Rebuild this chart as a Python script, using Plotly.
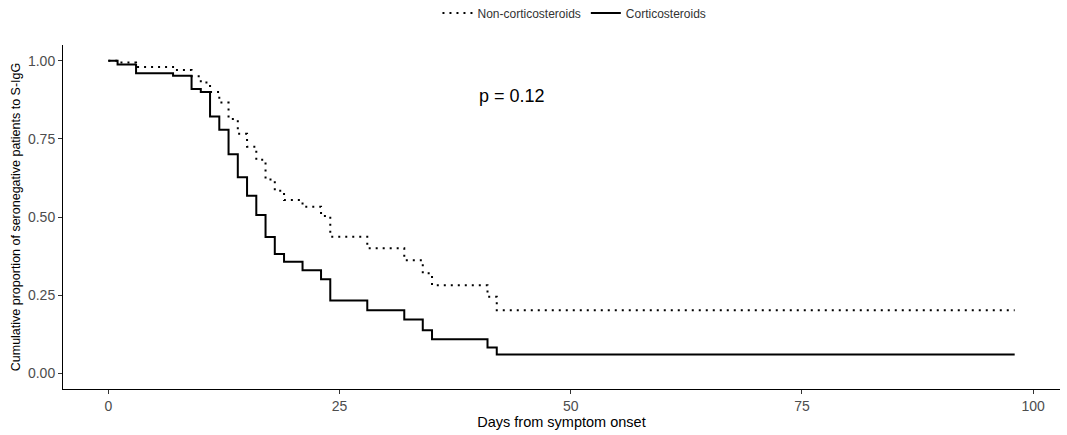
import plotly.graph_objects as go

# Data (Kaplan-Meier style step curves)
noncort_days = [0, 1, 3, 7, 9, 10, 11, 12, 13, 14, 15, 16, 17, 18, 19, 21, 23, 24, 28, 32, 34, 35, 41, 42, 98]
noncort_surv = [1.0, 0.994, 0.98, 0.97, 0.95, 0.93, 0.90, 0.866, 0.813, 0.766, 0.725, 0.683, 0.62, 0.584,
                0.554, 0.533, 0.503, 0.437, 0.40, 0.362, 0.32, 0.282, 0.245, 0.202, 0.202]

cort_days = [0, 1, 3, 7, 9, 10, 11, 12, 13, 14, 15, 16, 17, 18, 19, 21, 23, 24, 28, 32, 34, 35, 41, 42, 98]
cort_surv = [1.0, 0.988, 0.96, 0.952, 0.909, 0.90, 0.821, 0.779, 0.701, 0.627, 0.568, 0.506, 0.436, 0.382,
             0.357, 0.33, 0.301, 0.233, 0.202, 0.172, 0.138, 0.109, 0.083, 0.06, 0.06]

x_ticks = [0, 25, 50, 75, 100]
y_ticks = [0.0, 0.25, 0.5, 0.75, 1.0]
p_label = "p = 0.12"

FONT = "Liberation Sans, Arial, sans-serif"

fig = go.Figure()
fig.add_trace(go.Scatter(
    x=noncort_days, y=noncort_surv, mode="lines", name="Non-corticosteroids",
    line=dict(shape="hv", color="black", width=2, dash="2px,5px"),
))
fig.add_trace(go.Scatter(
    x=cort_days, y=cort_surv, mode="lines", name="Corticosteroids",
    line=dict(shape="hv", color="black", width=2),
))

fig.add_annotation(x=43.7, y=0.888, text=p_label, showarrow=False,
                   font=dict(family=FONT, size=18, color="black"))

fig.update_layout(
    width=1067, height=435,
    margin=dict(l=63, r=7, t=45, b=46, autoexpand=False),
    paper_bgcolor="white", plot_bgcolor="white",
    font=dict(family=FONT, color="#4d4d4d"),
    showlegend=True,
    legend=dict(orientation="h", x=0.513, xanchor="center", y=0.97, yanchor="middle",
                yref="container", itemwidth=30,
                font=dict(family=FONT, size=12, color="#333333")),
    xaxis=dict(range=[-4.9, 102.9], tickvals=x_ticks, showgrid=False, zeroline=False,
               automargin=False,
               showline=True, linecolor="black", linewidth=1,
               ticks="outside", ticklen=4, tickcolor="#333333",
               tickfont=dict(size=14, color="#4d4d4d"),
               title=dict(text="Days from symptom onset", font=dict(size=14.5, color="black"), standoff=4)),
    yaxis=dict(range=[-0.05, 1.05], tickvals=y_ticks, tickformat=".2f", showgrid=False, zeroline=False,
               automargin=False,
               showline=True, linecolor="black", linewidth=1,
               ticks="outside", ticklen=4, tickcolor="#333333",
               tickfont=dict(size=14, color="#4d4d4d"),
               title=dict(text="Cumulative proportion of seronegative patients to S-IgG",
                          font=dict(size=12.5, color="black"), standoff=4)),
)

fig.write_html("out.html")
